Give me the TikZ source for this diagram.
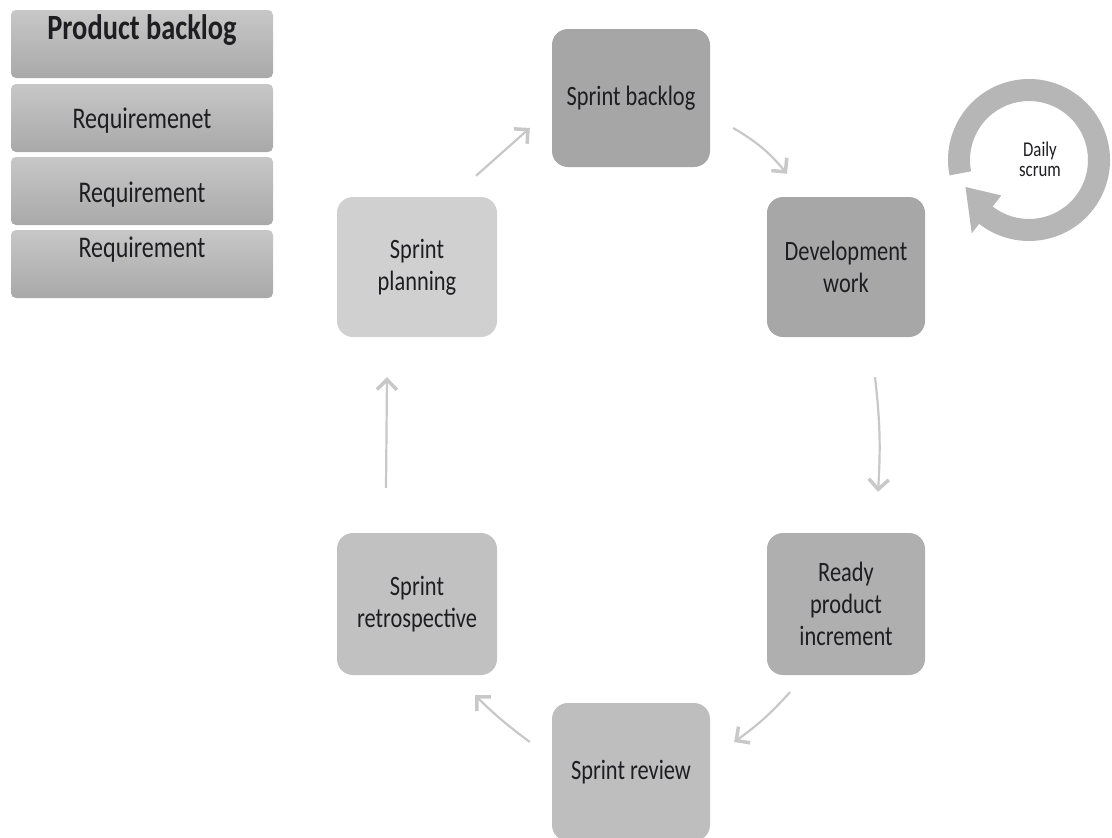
\documentclass[tikz,border=0pt]{standalone}
\usepackage{fontspec}
\setmainfont{Carlito}[FakeStretch=0.8]
\usetikzlibrary{arrows.meta}
\definecolor{txt}{HTML}{1E1E22}
\definecolor{flowgray}{HTML}{C8C8C8}
\definecolor{ringgray}{HTML}{B6B6B6}
\definecolor{reqtop}{HTML}{C7C7C7}
\definecolor{reqbot}{HTML}{A9A9A9}
\definecolor{fbacklog}{HTML}{A6A6A6}
\definecolor{fdev}{HTML}{A7A7A7}
\definecolor{fready}{HTML}{AFAFAF}
\definecolor{freview}{HTML}{BEBEBE}
\definecolor{fretro}{HTML}{C1C1C1}
\definecolor{fplan}{HTML}{D0D0D0}
\begin{document}
\begin{tikzpicture}[x=1pt,y=-1pt,
  stage/.style={rounded corners=16pt, minimum width=158pt, minimum height=140pt,
    align=center, text=txt, inner sep=0pt, font=\fontsize{28}{32}\selectfont},
  flow/.style={draw=flowgray, line width=2.2pt,
    -{Straight Barb[length=10pt,width=20pt,line width=3.5pt]}},
  reqbox/.style={rounded corners=5pt, minimum width=262pt, minimum height=68pt,
    top color=reqtop, bottom color=reqbot, inner sep=0pt},
  reqtext/.style={text=txt, inner sep=0pt, font=\fontsize{30}{34}\selectfont},
]
\useasboundingbox (0,0) rectangle (1112,838);

% product backlog column
\node[reqbox] (pb) at (142,44) {};
\node[reqbox] (r1) at (142,118) {};
\node[reqbox] (r2) at (142,191) {};
\node[reqbox] (r3) at (142,264) {};
\node[reqtext, font=\bfseries\fontsize{35.5}{38}\selectfont] (pbt) at (142,30) {Product backlog};
\node[reqtext] (r1t) at (142,121) {Requiremenet};
\node[reqtext] (r2t) at (142,195) {Requirement};
\node[reqtext] (r3t) at (142,250) {Requirement};

% sprint cycle
\node[stage, fill=fbacklog, minimum width=158pt, minimum height=138pt] (back) at (631,98) {Sprint backlog};
\node[stage, fill=fdev] (dev) at (846,267) {Development\\work};
\node[stage, fill=fready, minimum height=142pt] (ready) at (846,604) {Ready\\product\\increment};
\node[stage, fill=freview, minimum height=138pt] (review) at (631,772) {Sprint review};
\node[stage, fill=fretro, minimum width=160pt, minimum height=142pt] (retro) at (417,604) {Sprint\\retrospective};
\node[stage, fill=fplan, minimum width=160pt] (plan) at (417,267) {Sprint\\planning};

\draw[flow] ([shift={(59,-21)}]plan.north) -- ([shift={(-22,30)}]back.west);
\draw[flow] ([shift={(23,30)}]back.east) to[bend left=10] ([shift={(-59,-23)}]dev.north);
\draw[flow] ([shift={(29,40)}]dev.south) to[bend left=5] ([shift={(32,-41)}]ready.north);
\draw[flow] ([shift={(-56,17)}]ready.south) to[bend left=6] ([shift={(24,-30)}]review.east);
\draw[flow] ([shift={(-22,-30)}]review.west) to[bend left=4] ([shift={(58,20)}]retro.south);
\draw[flow] ([shift={(-31,-45)}]retro.north) -- ([shift={(-30,40)}]plan.south);

% daily scrum loop
\coordinate (dsc) at (1029,160);
\fill[ringgray] ([shift={(169:81)}]dsc) arc[start angle=169, end angle=490, radius=81]
  -- ([shift={(490:59)}]dsc) arc[start angle=490, end angle=169, radius=59] -- cycle;
\fill[ringgray] ([shift={(128:45)}]dsc) -- ([shift={(128:93)}]dsc) -- ([shift={(157:69)}]dsc) -- cycle;
\node[text=txt, align=center, inner sep=0pt, font=\fontsize{21}{20}\selectfont] (daily) at (1040,159) {Daily\\scrum};
\end{tikzpicture}
\end{document}
